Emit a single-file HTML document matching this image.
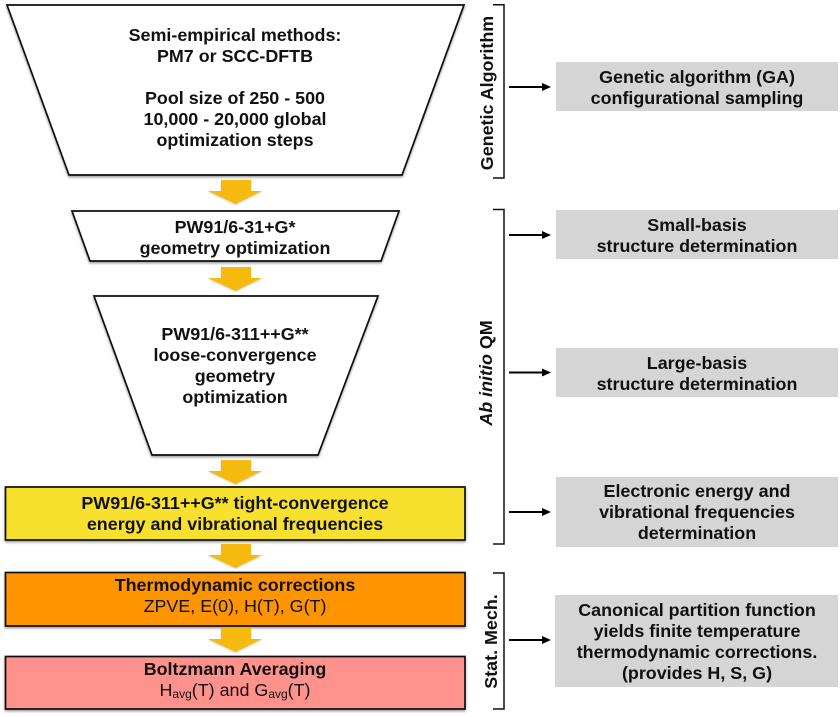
<!DOCTYPE html>
<html><head><meta charset="utf-8"><style>
html,body{margin:0;padding:0;background:#fff}
svg{display:block}
text{font-family:"Liberation Sans",sans-serif;font-size:17.9px;fill:#111;text-anchor:middle}
.b{font-weight:bold}
</style></head><body>
<svg width="840" height="717" viewBox="0 0 840 717" xmlns="http://www.w3.org/2000/svg">
<defs>
<filter id="s" x="-5%" y="-10%" width="110%" height="125%"><feDropShadow dx="0" dy="1.5" stdDeviation="1.2" flood-color="#000" flood-opacity=".4"/></filter>
<filter id="a" x="-10%" y="-10%" width="120%" height="130%"><feDropShadow dx="0" dy="1" stdDeviation=".8" flood-color="#000" flood-opacity=".2"/></filter>
<polygon id="ar" points="221,0 251,0 251,11 262,11 235.500,24 208,11 221,11" fill="#f6b908"/>
<polygon id="ah" points="0,-4 9,0 0,4" fill="#000"/>
</defs>
<g stroke="#111" stroke-width="1.700" fill="#fff" filter="url(#s)">
<polygon points="7,5 464,5 402,175 69,175"/>
<polygon points="72,211 399,211 381,261 90,261"/>
<polygon points="94,296 378,296 318,455 152,455"/>
<rect x="5.500" y="487" width="459.500" height="53" fill="#f8e02e"/>
<rect x="5.500" y="572.500" width="459.500" height="53.500" fill="#fe9400"/>
<rect x="5.500" y="656.500" width="459.500" height="52.500" fill="#ff928c"/>
</g>
<g filter="url(#a)">
<use href="#ar" y="180"/><use href="#ar" y="267"/><use href="#ar" y="460"/><use href="#ar" y="544"/><use href="#ar" y="628"/>
</g>
<g fill="#d5d5d5">
<rect x="556" y="62" width="282" height="49"/>
<rect x="556" y="210" width="282" height="49"/>
<rect x="556" y="348" width="282" height="49"/>
<rect x="556" y="477" width="282" height="70"/>
<rect x="555" y="595" width="283" height="92"/>
</g>
<g fill="none" stroke="#111" stroke-width="1.500">
<path d="M493,4.800H504V178H493"/>
<path d="M493,209.500H504V544H493"/>
<path d="M493,573H504V709H493"/>
</g>
<g fill="none" stroke="#000" stroke-width="2">
<path d="M509,87H544M509,235H544M509,372.500H544M509,512H544M509,640H544"/>
</g>
<use href="#ah" x="542" y="87"/><use href="#ah" x="542" y="235"/><use href="#ah" x="542" y="372.500"/><use href="#ah" x="542" y="512"/><use href="#ah" x="542" y="640"/>
<g class="b">
<text x="235" y="41">Semi-empirical methods:</text>
<text x="235" y="62">PM7 or SCC-DFTB</text>
<text x="235" y="104">Pool size of 250 - 500</text>
<text x="235" y="125">10,000 - 20,000 global</text>
<text x="235" y="146">optimization steps</text>
<text x="235" y="233">PW91/6-31+G*</text>
<text x="235" y="254">geometry optimization</text>
<text x="235" y="340">PW91/6-311++G**</text>
<text x="235" y="361">loose-convergence</text>
<text x="235" y="382">geometry</text>
<text x="235" y="403">optimization</text>
<text x="235" y="509">PW91/6-311++G** tight-convergence</text>
<text x="235" y="530">energy and vibrational frequencies</text>
<text x="235" y="591">Thermodynamic corrections</text>
<text x="235" y="675">Boltzmann Averaging</text>
<text x="697" y="83">Genetic algorithm (GA)</text>
<text x="697" y="104">configurational sampling</text>
<text x="697" y="231">Small-basis</text>
<text x="697" y="252">structure determination</text>
<text x="697" y="369">Large-basis</text>
<text x="697" y="390">structure determination</text>
<text x="697" y="497">Electronic energy and</text>
<text x="697" y="518">vibrational frequencies</text>
<text x="697" y="539">determination</text>
<text x="697" y="616">Canonical partition function</text>
<text x="697" y="637">yields finite temperature</text>
<text x="697" y="658">thermodynamic corrections.</text>
<text x="697" y="679">(provides H, S, G)</text>
<text transform="translate(493,93) rotate(-90)">Genetic Algorithm</text>
<text transform="translate(492,373) rotate(-90)"><tspan font-style="italic">Ab initio</tspan> QM</text>
<text transform="translate(497,641.500) rotate(-90)">Stat. Mech.</text>
</g>
<text x="235" y="612">ZPVE, E(0), H(T), G(T)</text>
<text x="235" y="696">H<tspan font-size="12" dy="2">avg</tspan><tspan dy="-2">(T) and G</tspan><tspan font-size="12" dy="2">avg</tspan><tspan dy="-2">(T)</tspan></text>
</svg>
</body></html>
